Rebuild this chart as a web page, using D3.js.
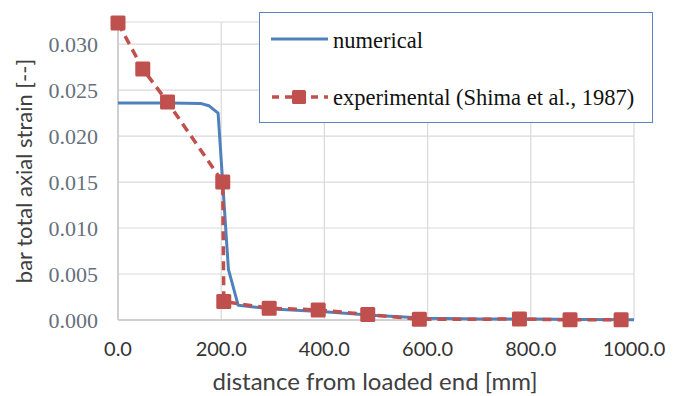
<!DOCTYPE html>
<html>
<head>
<meta charset="utf-8">
<script src="https://cdn.jsdelivr.net/npm/d3@7"></script>
<style>
  body { margin: 0; background: #fff; }
  svg { display: block; }
</style>
</head>
<body>
<div class="chart"></div>
<script>
// numerical result (distance mm, strain)
var numX = [0, 100, 160, 176, 194, 214, 233, 300, 400, 500, 600, 700, 800, 900, 1000];
var numY = [0.0236, 0.0236, 0.02355, 0.0233, 0.0225, 0.0055, 0.0016, 0.0012, 0.0009, 0.0005, 0.0002, 0.00012, 0.0001, 0.00006, 0.00004];

// experimental (Shima et al., 1987)
var expX = [0, 48, 96, 203, 205, 293, 388, 484, 584, 778, 876, 975];
var expY = [0.0323, 0.0273, 0.0237, 0.0150, 0.0020, 0.00128, 0.0011, 0.0006, 0.00008, 0.0001, 0.00002, 0.00002];

var xTicks = [0, 200, 400, 600, 800, 1000];
var yTicks = [0, 0.005, 0.010, 0.015, 0.020, 0.025, 0.030];
var seriesNames = ["numerical", "experimental (Shima et al., 1987)"];

var width = 678, height = 396;
var blue = "#4f81bd", red = "#c0504d";

var svg = d3.select(".chart").append("svg")
  .attr("width", width).attr("height", height);

var x = d3.scaleLinear().domain([0, 1000]).range([118, 634]);
var y = d3.scaleLinear().domain([0, 0.0324]).range([320, 22]);

// gridlines
svg.append("g").selectAll("line").data(yTicks.concat([0.0324])).enter().append("line")
  .attr("x1", x(0)).attr("x2", x(1000))
  .attr("y1", function (d) { return y(d); }).attr("y2", function (d) { return y(d); })
  .attr("stroke", "#d9d9d9").attr("stroke-width", 1.2);
svg.append("g").selectAll("line").data(xTicks).enter().append("line")
  .attr("x1", function (d) { return x(d); }).attr("x2", function (d) { return x(d); })
  .attr("y1", y(0)).attr("y2", y(0.0324))
  .attr("stroke", "#d9d9d9").attr("stroke-width", 1.2);

// axes lines
svg.append("line").attr("x1", x(0)).attr("x2", x(0)).attr("y1", y(0)).attr("y2", y(0.0324))
  .attr("stroke", "#c8c8c8").attr("stroke-width", 1.6);
svg.append("line").attr("x1", x(0)).attr("x2", x(1000)).attr("y1", y(0)).attr("y2", y(0))
  .attr("stroke", "#c8c8c8").attr("stroke-width", 1.6);

// tick labels
svg.append("g").selectAll("text").data(yTicks).enter().append("text")
  .attr("x", 98).attr("y", function (d) { return y(d); })
  .attr("dy", "0.35em").attr("text-anchor", "end")
  .style("font-family", "'Liberation Serif', serif").style("font-size", "22px")
  .attr("fill", "#66707c")
  .text(function (d) { return d3.format(".3f")(d); });

svg.append("g").selectAll("text").data(xTicks).enter().append("text")
  .attr("x", function (d) { return x(d); }).attr("y", 349)
  .attr("dy", "0.35em").attr("text-anchor", "middle")
  .style("font-family", "Lato, sans-serif").style("font-size", "20px")
  .attr("fill", "#333")
  .text(function (d) { return d3.format(".1f")(d); });

// axis titles
svg.append("text").attr("x", 375).attr("y", 382).attr("dy", "0.35em")
  .attr("text-anchor", "middle")
  .style("font-family", "Lato, sans-serif").style("font-size", "24px")
  .attr("fill", "#404040").text("distance from loaded end [mm]");

svg.append("text").attr("transform", "translate(32,171) rotate(-90)")
  .attr("text-anchor", "middle")
  .style("font-family", "Lato, sans-serif").style("font-size", "22px")
  .attr("fill", "#404040").text("bar total axial strain [--]");

// numerical line
var numData = numX.map(function (d, i) { return [d, numY[i]]; });
var line = d3.line().x(function (d) { return x(d[0]); }).y(function (d) { return y(d[1]); });
svg.append("path").datum(numData).attr("d", line)
  .attr("fill", "none").attr("stroke", blue).attr("stroke-width", 3)
  .attr("stroke-linejoin", "round");

// experimental line + markers
var expData = expX.map(function (d, i) { return [d, expY[i]]; });
svg.append("path").datum(expData).attr("d", line)
  .attr("fill", "none").attr("stroke", red).attr("stroke-width", 3.5)
  .attr("stroke-dasharray", "9,6");
svg.append("g").selectAll("rect").data(expData).enter().append("rect")
  .attr("x", function (d) { return x(d[0]) - 7.5; })
  .attr("y", function (d) { return y(d[1]) - 7.5; })
  .attr("width", 15).attr("height", 15).attr("rx", 1.5)
  .attr("fill", red);

// legend
var lg = svg.append("g");
lg.append("rect").attr("x", 259.5).attr("y", 12.5).attr("width", 393).attr("height", 110)
  .attr("fill", "#fff").attr("stroke", "#5b82c6").attr("stroke-width", 1);
lg.append("line").attr("x1", 271).attr("x2", 328).attr("y1", 39).attr("y2", 39)
  .attr("stroke", blue).attr("stroke-width", 3);
lg.append("line").attr("x1", 271).attr("x2", 328).attr("y1", 97).attr("y2", 97)
  .attr("stroke", red).attr("stroke-width", 3.5).attr("stroke-dasharray", "7,6")
  .attr("stroke-dashoffset", -1);
lg.append("rect").attr("x", 292).attr("y", 90).attr("width", 14).attr("height", 14)
  .attr("rx", 1.5).attr("fill", red);
lg.selectAll("text.lab").data(seriesNames).enter().append("text")
  .attr("class", "lab")
  .attr("x", 333).attr("y", function (d, i) { return i === 0 ? 40 : 97; })
  .attr("dy", "0.35em")
  .style("font-family", "'Liberation Serif', serif").style("font-size", "22.5px")
  .attr("fill", "#111")
  .text(function (d) { return d; });
</script>
</body>
</html>
